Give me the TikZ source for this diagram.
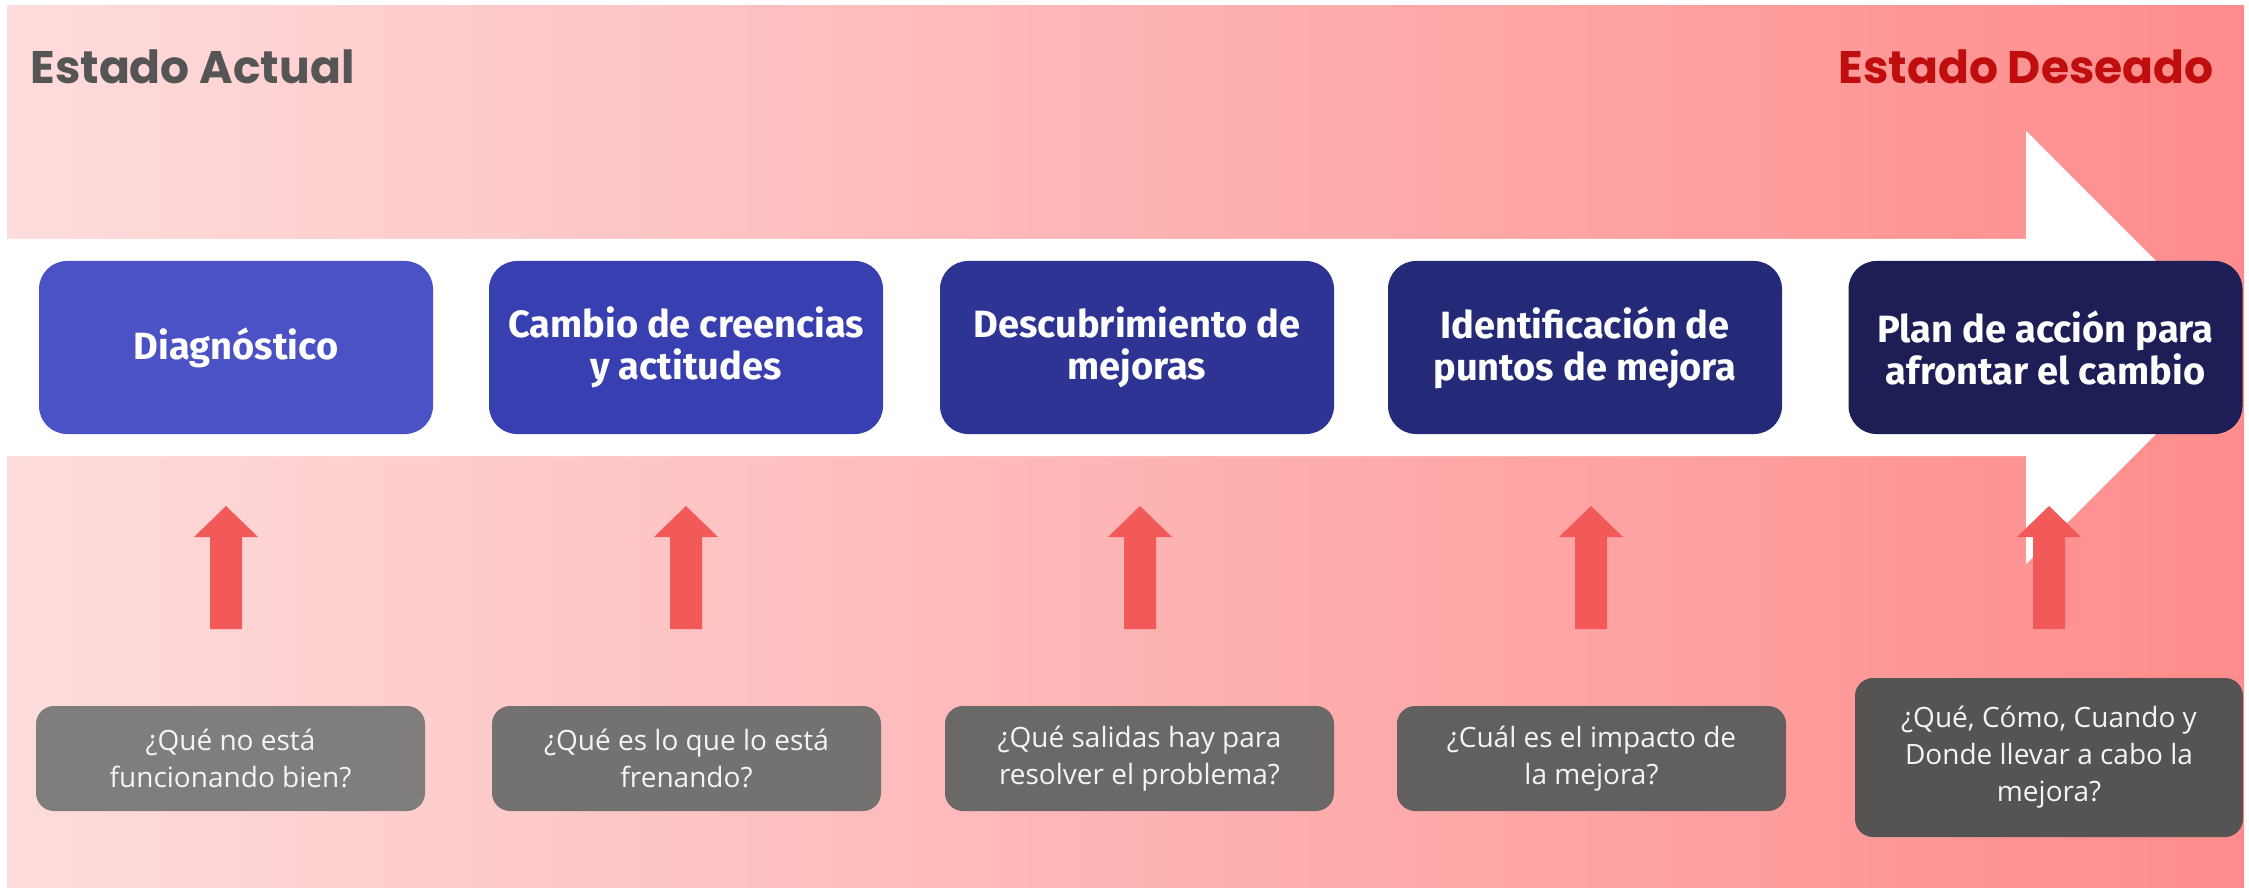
\documentclass[tikz,border=0pt]{standalone}
\usepackage{fontspec}
\setmainfont{Open Sans}
\newfontfamily\titlefont{Poppins}
\newfontfamily\boxfont{Fira Sans}
\definecolor{bgleft}{HTML}{FEDCDC}
\definecolor{bgright}{HTML}{FE8C8C}
\definecolor{titlegray}{HTML}{555555}
\definecolor{titlered}{HTML}{C00D0D}
\definecolor{arrowred}{HTML}{F25A5A}
\definecolor{qtext}{HTML}{F4F4F4}
\definecolor{bA}{HTML}{4A52C6}
\definecolor{bB}{HTML}{383FB0}
\definecolor{bC}{HTML}{2E3494}
\definecolor{bD}{HTML}{252A78}
\definecolor{bE}{HTML}{1C1E55}
\definecolor{gA}{HTML}{7F7E7D}
\definecolor{gB}{HTML}{737271}
\definecolor{gC}{HTML}{6A6968}
\definecolor{gD}{HTML}{62605E}
\definecolor{gE}{HTML}{555453}
\newcommand\uparrowshape[1]{\fill[arrowred] (#1,506) -- (#1+32,537) -- (#1+16,537) -- (#1+16,629) -- (#1-16,629) -- (#1-16,537) -- (#1-32,537) -- cycle;}
\begin{document}
\begin{tikzpicture}[x=0.5pt,y=-0.5pt,
  stepbox/.style={rounded corners=14pt, inner sep=0pt, text=white, align=center,
    font=\boxfont\bfseries\fontsize{19pt}{21pt}\selectfont,
    minimum width=197pt, minimum height=86.5pt},
  qbox/.style={rounded corners=9pt, inner sep=0pt, text=qtext, align=center,
    font=\fontsize{14pt}{18.5pt}\selectfont,
    minimum width=194.5pt, minimum height=52.5pt},
  titletext/.style={font=\titlefont\bfseries\fontsize{22.8pt}{24pt}\selectfont}]
\useasboundingbox (0,0) rectangle (2249,893);
\shade[left color=bgleft, right color=bgright] (7,6) rectangle (2244,887);
\fill[white] (7,239) -- (2026,239) -- (2026,131) -- (2242.5,347.5) -- (2026,564) -- (2026,456) -- (7,456) -- cycle;

\node[titletext, anchor=base west, text=titlegray, inner xsep=0pt] (actual) at (30,84) {Estado Actual};
\node[titletext, anchor=base east, text=titlered, inner xsep=0pt] (deseado) at (2214,84) {Estado Deseado};

\node[stepbox, fill=bA] (s1) at (236,347.5) {Diagnóstico};
\node[stepbox, fill=bB] (s2) at (686,347.5) {Cambio de creencias\\y actitudes};
\node[stepbox, fill=bC] (s3) at (1137,347.5) {Descubrimiento de\\mejoras};
\node[stepbox, fill=bD] (s4) at (1585,347.5) {Identificación de\\puntos de mejora};
\node[stepbox, fill=bE] (s5) at (2045.5,347.5) {Plan de acción para\\afrontar el cambio};

\uparrowshape{226}
\uparrowshape{686}
\uparrowshape{1140}
\uparrowshape{1591}
\uparrowshape{2049}

\node[qbox, fill=gA] (q1) at (230.5,758.5) {¿Qué no está\\funcionando bien?};
\node[qbox, fill=gB] (q2) at (686.5,758.5) {¿Qué es lo que lo está\\frenando?};
\node[qbox, fill=gC] (q3) at (1139.5,758.5) {¿Qué salidas hay para\\resolver el problema?};
\node[qbox, fill=gD] (q4) at (1591.5,758.5) {¿Cuál es el impacto de\\la mejora?};
\node[qbox, fill=gE, minimum width=194pt, minimum height=79.5pt] (q5) at (2049,757.5) {¿Qué, Cómo, Cuando y\\Donde llevar a cabo la\\mejora?};
\end{tikzpicture}
\end{document}
